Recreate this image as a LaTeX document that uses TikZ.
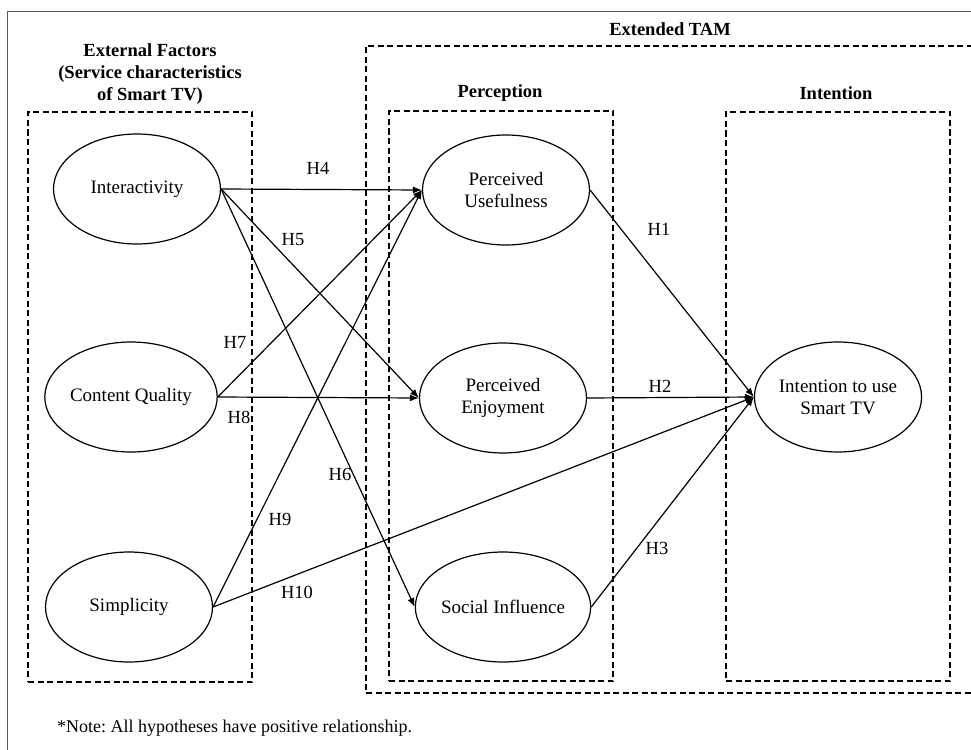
\documentclass[tikz,border=0pt]{standalone}
\usepackage{fontspec}
\setmainfont{Liberation Serif}
\usetikzlibrary{shapes.geometric,arrows.meta}
\frenchspacing
\begin{document}
\begin{tikzpicture}[x=1pt,y=-1pt,
  oval/.style={draw, line width=1.2pt, ellipse, minimum width=167pt, minimum height=110pt, inner sep=0pt, align=center, font=\fontsize{19}{22}\selectfont},
  dashbox/.style={draw, line width=1.2pt, dash pattern=on 6pt off 3.5pt, rectangle, inner sep=0pt},
  title/.style={font=\fontsize{18.5}{22}\selectfont\bfseries, align=center, inner sep=0pt},
  hlabel/.style={font=\fontsize{18.5}{22}\selectfont, inner sep=0pt},
  arr/.style={line width=1.2pt, -{Latex[length=9pt,width=7pt]}}
]
\useasboundingbox (0,0) rectangle (971,749);
\clip (0,0) rectangle (971,749);
% outer frame
\coordinate (fbl) at (7,760);
\coordinate (ftl) at (7,12);
\coordinate (ftr) at (990,12);
\draw[line width=1pt, draw=black!65] (fbl) -- (ftl) -- (ftr);

% dashed boxes
\node[dashbox, minimum width=224pt, minimum height=570pt] (extbox) at (140,397) {};
\node[dashbox, minimum width=640pt, minimum height=647pt] (tambox) at (686,369.5) {};
\node[dashbox, minimum width=224pt, minimum height=570pt] (percbox) at (501,396) {};
\node[dashbox, minimum width=224pt, minimum height=569pt] (intbox) at (838,396.5) {};

% titles
\node[title] (t1) at (150,74) {External Factors\\(Service characteristics\\of Smart TV)};
\node[title] (t2) at (670,29) {Extended TAM};
\node[title] (t3) at (500,93) {Perception};
\node[title] (t4) at (836,93) {Intention};

% ellipses
\node[oval] (ia) at (137,189) {Interactivity};
\node[oval] (cq) at (131,397) {Content Quality};
\node[oval] (si) at (129,607) {Simplicity};
\node[oval] (pu) at (506,190) {Perceived\\Usefulness};
\node[oval] (pe) at (503,398) {Perceived\\Enjoyment};
\node[oval] (so) at (503,607) {Social Influence};
\node[oval] (iu) at (838,397) {Intention to use\\Smart TV};

% arrows
\draw[arr] (ia.east) -- (pu.west);
\draw[arr] (ia.east) -- (pe.west);
\draw[arr] (ia.east) -- (so.west);
\draw[arr] (cq.east) -- (pu.west);
\draw[arr] (cq.east) -- (pe.west);
\draw[arr] (si.east) -- (pu.west);
\draw[arr] (si.east) -- (iu.west);
\draw[arr] (pu.east) -- (iu.west);
\draw[arr] (pe.east) -- (iu.west);
\draw[arr] (so.east) -- (iu.west);

% labels
\node[hlabel] (h4) at (318,168) {H4};
\node[hlabel] (h5) at (293,240) {H5};
\node[hlabel] (h6) at (340,474) {H6};
\node[hlabel] (h7) at (235,342) {H7};
\node[hlabel] (h8) at (239,417) {H8};
\node[hlabel] (h9) at (280,519) {H9};
\node[hlabel] (h10) at (297,592) {H10};
\node[hlabel] (h1) at (659,229) {H1};
\node[hlabel] (h2) at (660,386) {H2};
\node[hlabel] (h3) at (657,548) {H3};

% note
\node[anchor=west, inner sep=0pt, font=\fontsize{18}{21}\selectfont] (note) at (57,728) {*Note: All hypotheses have positive relationship.};
\end{tikzpicture}
\end{document}
